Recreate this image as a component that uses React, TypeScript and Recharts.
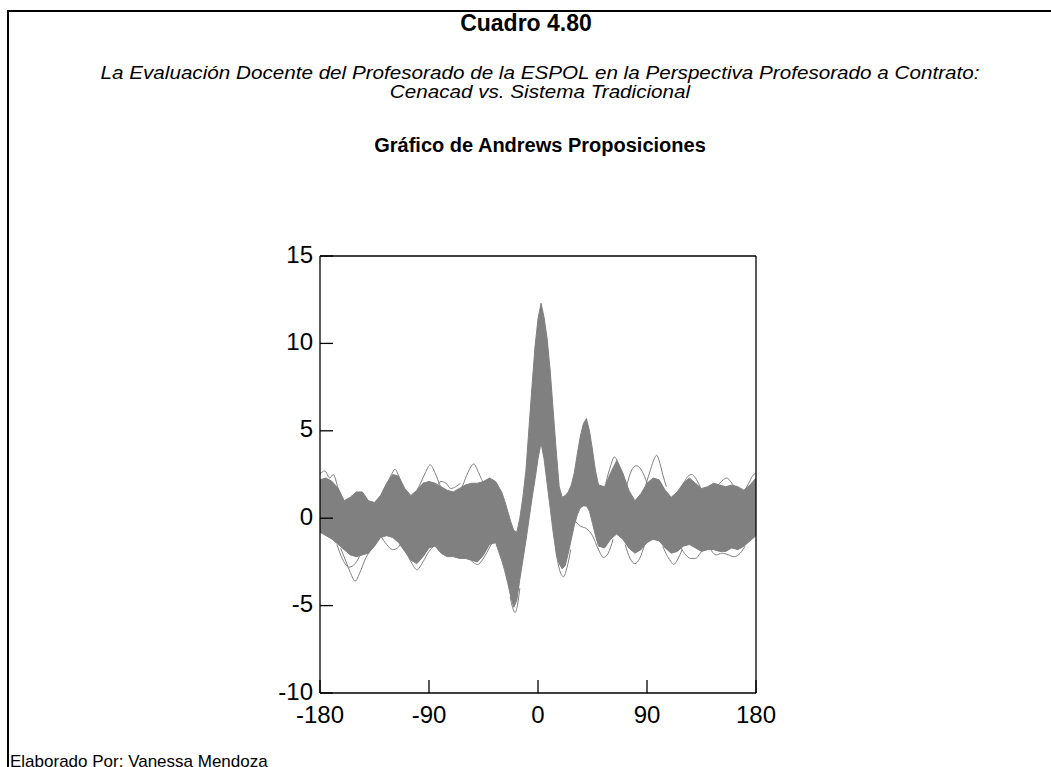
import React from 'react';
import { ComposedChart, Area, Line, XAxis, YAxis } from 'recharts';

// Degree grid of the dense band (x axis, -180..180)
const bandDeg = [
  -180, -175, -170, -165, -160, -155, -150, -145, -140, -135, -130, -125, -120, -115, -110, -105,
  -100, -95, -90, -85, -80, -75, -70, -65, -60, -55, -50, -45, -40, -35, -30,
  -27.5, -25, -22.5, -20, -17.5, -15, -12.5, -10, -7.5, -5, -2.5, 0, 2.5, 5, 7.5, 10, 12.5, 15,
  17.5, 20, 22.5, 25, 27.5, 30, 32.5, 35, 37.5, 40, 42.5, 45, 47.5, 50,
  55, 60, 65, 70, 75, 80, 85, 90, 95, 100, 105, 110, 115, 120, 125, 130, 135, 140, 145, 150,
  155, 160, 165, 170, 175, 180,
];
// Upper edge of the dense bundle of curves
const bandHi = [
  2.2, 2.3, 2.1, 1.7, 1.0, 1.2, 1.5, 1.5, 1.0, 0.9, 1.3, 2.0, 2.5, 2.4, 1.7, 1.3,
  1.6, 2.0, 2.1, 2.0, 1.8, 1.6, 1.5, 1.7, 1.9, 2.0, 2.0, 2.1, 2.3, 2.1, 1.5,
  1.0, 0.4, -0.2, -0.7, -0.8, 0.0, 1.2, 2.7, 5.1, 7.5, 9.8, 11.4, 12.3, 11.5, 10.3, 8.5, 6.2, 3.9,
  1.8, 1.2, 1.3, 1.5, 1.9, 2.6, 3.7, 4.7, 5.4, 5.7, 5.0, 3.9, 2.7, 1.9,
  1.8, 2.6, 3.3, 2.6, 1.6, 1.0, 1.4, 2.0, 2.3, 2.2, 1.6, 1.2, 1.5, 2.0, 2.3, 2.0, 1.7, 1.8, 2.0, 1.9,
  1.8, 1.9, 1.8, 1.6, 1.9, 2.3,
];
// Lower edge of the dense bundle of curves
const bandLo = [
  -0.8, -1.0, -1.2, -1.5, -1.8, -2.1, -2.2, -2.1, -2.0, -1.6, -1.1, -1.0, -1.1, -1.4, -1.9, -2.4,
  -2.6, -2.2, -1.7, -1.6, -2.0, -2.2, -2.2, -2.3, -2.3, -2.4, -2.5, -2.1, -1.5, -1.4, -2.4,
  -3.0, -3.7, -4.5, -5.1, -4.7, -3.5, -2.4, -1.3, -0.1, 1.1, 2.2, 3.4, 4.3, 3.4, 2.0, 0.6, -0.8, -2.0,
  -2.6, -2.9, -2.7, -2.0, -1.2, -0.4, 0.2, 0.6, 0.7, 0.7, 0.4, -0.3, -1.0, -1.6,
  -1.7, -1.2, -0.9, -1.2, -1.7, -2.0, -1.8, -1.4, -1.2, -1.3, -1.7, -2.0, -1.9, -1.6, -1.5, -1.7, -1.9, -1.8, -1.8, -1.9,
  -1.9, -1.7, -1.8, -1.6, -1.3, -1.0,
];

// Individual curves that stray outside the bundle: [degree, value]
const upperArc1: [number, number][] = [[-180, 2.55], [-176, 2.7], [-172, 2.3], [-169, 2.5], [-165, 1.7], [-161, 1.0]];
const upperArc2: [number, number][] = [[-130, 1.0], [-125, 1.9], [-121, 2.5], [-118, 2.8], [-115, 2.4], [-111, 1.6], [-106, 1.0]];
const upperArc3: [number, number][] = [[-102, 1.3], [-97, 2.0], [-93, 2.6], [-89, 3.05], [-85, 2.6], [-81, 1.9], [-77, 1.5]];
const upperArc4: [number, number][] = [[-66, 1.4], [-62, 1.9], [-58, 2.6], [-53, 3.1], [-49, 2.6], [-45, 2.1], [-41, 2.2]];
const upperArc5: [number, number][] = [[-84, 1.8], [-80, 2.1], [-76, 2.0], [-72, 1.7], [-68, 1.8], [-64, 2.0]];
const lowerArc1: [number, number][] = [[-163, -1.7], [-159, -2.4], [-155, -3.1], [-151, -3.6], [-147, -3.1], [-143, -2.4], [-139, -1.9]];
const lowerArc2: [number, number][] = [[-166, -1.5], [-161, -2.4], [-156, -2.8], [-151, -2.6], [-146, -2.0]];
const lowerArc3: [number, number][] = [[-114, -1.2], [-109, -1.9], [-104, -2.6], [-100, -2.95], [-95, -2.5], [-90, -1.9], [-86, -1.6]];
const lowerArc4: [number, number][] = [[-62, -2.0], [-57, -2.3], [-53, -2.55], [-50, -2.65], [-46, -2.4], [-41, -1.8], [-37, -1.3]];
const lowerArc5: [number, number][] = [[-130, -1.0], [-125, -1.5], [-120, -1.8], [-116, -1.7], [-112, -1.3]];
const troughArc1: [number, number][] = [[-23, -4.5], [-21, -5.1], [-19, -5.4], [-17, -5.0], [-15, -4.0]];
const troughArc2: [number, number][] = [[15, -2.0], [18, -3.0], [21, -3.35], [24, -2.8], [27, -1.8]];
const rightUpper1: [number, number][] = [[73, 1.8], [77, 2.7], [81, 3.0], [85, 2.8], [89, 2.2], [92, 1.6]];
const rightUpper2: [number, number][] = [[89, 1.9], [93, 2.8], [96, 3.4], [98, 3.6], [100, 3.3], [103, 2.5], [106, 1.8]];
const rightUpper3: [number, number][] = [[117, 1.6], [121, 2.1], [124, 2.4], [127, 2.5], [130, 2.3], [134, 1.8]];
const rightUpper4: [number, number][] = [[146, 1.7], [150, 2.0], [153, 2.2], [156, 2.3], [159, 2.1], [163, 1.7]];
const rightUpper5: [number, number][] = [[56, 2.0], [60, 3.0], [63, 3.5], [66, 3.2], [70, 2.3]];
const rightUpper6: [number, number][] = [[170, 1.5], [174, 2.0], [177, 2.4], [180, 2.6]];
const rightLower1: [number, number][] = [[30, -0.1], [35, -0.45], [40, -0.6], [45, -1.0], [50, -1.8], [54, -2.25], [58, -2.0], [62, -1.2]];
const rightLower2: [number, number][] = [[72, -1.5], [76, -2.3], [80, -2.6], [84, -2.3], [88, -1.5]];
const rightLower3: [number, number][] = [[103, -1.6], [107, -2.2], [110, -2.5], [112, -2.65], [115, -2.4], [119, -1.8]];
const rightLower4: [number, number][] = [[118, -1.7], [122, -2.1], [126, -2.3], [130, -2.3], [134, -2.0], [138, -1.6]];
const rightLower5: [number, number][] = [[142, -1.7], [147, -2.1], [152, -2.0], [157, -2.1], [162, -2.2], [167, -2.0], [171, -1.6]];

const strayCurves = [
  upperArc1, upperArc2, upperArc3, upperArc4, upperArc5,
  lowerArc1, lowerArc2, lowerArc3, lowerArc4, lowerArc5,
  troughArc1, troughArc2,
  rightUpper1, rightUpper2, rightUpper3, rightUpper4, rightUpper5, rightUpper6,
  rightLower1, rightLower2, rightLower3, rightLower4, rightLower5,
];

const xTicks = [-180, -90, 0, 90, 180];
const yTicks = [-10, -5, 0, 5, 10, 15];

const titleText = 'Cuadro 4.80';
const subtitle1 = 'La Evaluación Docente del Profesorado de la ESPOL en la Perspectiva Profesorado a Contrato:';
const subtitle2 = 'Cenacad vs. Sistema Tradicional';
const chartTitle = 'Gráfico de Andrews Proposiciones';
const credit = 'Elaborado Por: Vanessa Mendoza';

const bandRows = bandDeg.map((d, i) => ({ deg: d, band: [bandLo[i], bandHi[i]], hi: bandHi[i] }));
const strayRows = strayCurves.map((c) => c.map(([d, v]) => ({ deg: d, v })));

const GRAY = '#808080';
const FONT = 'Arial, "Liberation Sans", Helvetica, sans-serif';

const YTick = (props: any) => {
  const { x, y, payload } = props;
  return (
    <text x={x} y={y - 2} textAnchor="end" dominantBaseline="central" fontSize={24} fill="#000" fontFamily={FONT}>
      {payload.value}
    </text>
  );
};

export default function App() {
  const axisLine = { stroke: '#000', strokeWidth: 1.3 };
  const tickStyle = { fontSize: 24, fill: '#000', fontFamily: FONT };
  const subStyle: React.CSSProperties = {
    position: 'absolute', left: 0, width: 1080, lineHeight: '18px', fontSize: 17.5, fontStyle: 'italic',
    textAlign: 'center', color: '#000', whiteSpace: 'nowrap', transform: 'scaleX(1.18)', transformOrigin: '540px 50%',
  };
  return (
    <div style={{ position: 'absolute', left: 0, top: 0, width: 1051, height: 767, background: '#fff', overflow: 'hidden', fontFamily: FONT }}>
      <div style={{ position: 'absolute', left: 7, top: 10, width: 1200, height: 900, borderLeft: '2px solid #000', borderTop: '2px solid #000' }} />
      <div style={{ position: 'absolute', left: 0, width: 1052, top: 9, lineHeight: '28px', fontSize: 23, fontWeight: 'bold', textAlign: 'center', color: '#000' }}>{titleText}</div>
      <div style={{ ...subStyle, top: 64 }}>{subtitle1}</div>
      <div style={{ ...subStyle, top: 83 }}>{subtitle2}</div>
      <div style={{ position: 'absolute', left: 0, width: 1080, top: 132, lineHeight: '26px', fontSize: 20, fontWeight: 'bold', textAlign: 'center', color: '#000' }}>{chartTitle}</div>
      <div style={{ position: 'absolute', left: 10, top: 752, lineHeight: '20px', fontSize: 17, color: '#000', whiteSpace: 'nowrap' }}>{credit}</div>
      <div style={{ position: 'absolute', left: 0, top: 0 }}>
        <ComposedChart width={1051} height={767} data={bandRows} margin={{ top: 246, right: 285, bottom: 34, left: 260 }}>
          <XAxis xAxisId="b" dataKey="deg" type="number" domain={[-180, 180]} ticks={xTicks} allowDataOverflow
            orientation="bottom" height={40} tickSize={-13} tickMargin={26} interval={0}
            axisLine={axisLine} tickLine={axisLine} tick={tickStyle} />
          <XAxis xAxisId="t" dataKey="deg" type="number" domain={[-180, 180]} ticks={xTicks} allowDataOverflow
            orientation="top" height={10} tickSize={-13} interval={0}
            axisLine={axisLine} tickLine={axisLine} tick={false} />
          <YAxis yAxisId="l" type="number" domain={[-10, 15]} ticks={yTicks} allowDataOverflow
            orientation="left" width={60} tickSize={-13} tickMargin={20} interval={0}
            axisLine={axisLine} tickLine={axisLine} tick={<YTick />} />
          <YAxis yAxisId="r" type="number" domain={[-10, 15]} ticks={yTicks} allowDataOverflow
            orientation="right" width={10} tickSize={-13} interval={0}
            axisLine={axisLine} tickLine={axisLine} tick={false} />
          <Line xAxisId="t" yAxisId="r" dataKey="hi" stroke="none" dot={false} activeDot={false} isAnimationActive={false} />
          <Area xAxisId="b" yAxisId="l" dataKey="band" type="linear" stroke={GRAY} strokeWidth={1}
            fill={GRAY} fillOpacity={1} dot={false} activeDot={false} isAnimationActive={false} />
          {strayRows.map((rows, i) => (
            <Line key={i} xAxisId="b" yAxisId="l" data={rows} dataKey="v" type="monotone" stroke={GRAY}
              strokeWidth={1} dot={false} activeDot={false} isAnimationActive={false} />
          ))}
        </ComposedChart>
      </div>
    </div>
  );
}
